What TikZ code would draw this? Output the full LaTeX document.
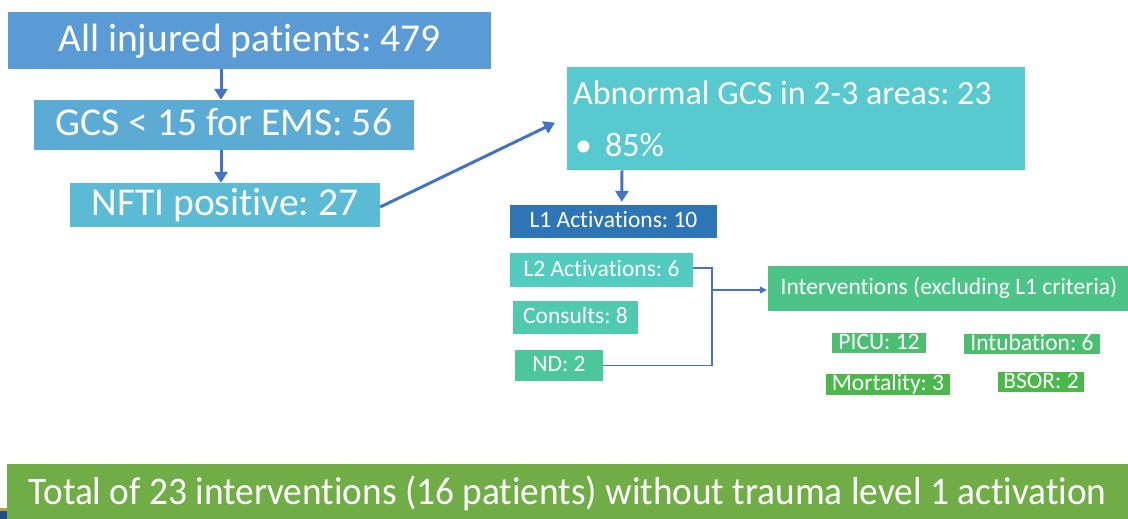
\documentclass[tikz,border=0pt]{standalone}
\usepackage{fontspec}
\setmainfont{Carlito}[Ligatures=NoCommon]
\usetikzlibrary{arrows.meta,calc}
\definecolor{cA}{HTML}{5B9BD5}
\definecolor{cB}{HTML}{5BABD5}
\definecolor{cC}{HTML}{5BBAD4}
\definecolor{cAb}{HTML}{57C9CF}
\definecolor{cL1}{HTML}{2E75B6}
\definecolor{cL2}{HTML}{52CCBF}
\definecolor{cCo}{HTML}{4FCAB0}
\definecolor{cND}{HTML}{4CC79C}
\definecolor{cIV}{HTML}{4DC487}
\definecolor{cPI}{HTML}{4CBE72}
\definecolor{cMo}{HTML}{4CB84C}
\definecolor{cBand}{HTML}{70AD47}
\definecolor{cArr}{HTML}{4472C4}
\definecolor{cGold}{HTML}{C49A3A}
\definecolor{cNavy}{HTML}{1F4E8C}
\frenchspacing
\begin{document}
\begin{tikzpicture}[x=1pt,y=-1pt,
  box/.style={rectangle,inner sep=0pt,text=white},
  bigbox/.style={box,font=\fontsize{39.5}{44}\selectfont,text height=25.4pt,text depth=4.2pt},
  smallbox/.style={box,font=\fontsize{23.5}{28}\selectfont,text height=15.1pt,text depth=2.8pt},
  thickarr/.style={draw=cArr,line width=3pt,-{Triangle[length=11pt,width=13pt]}},
  thinarr/.style={draw=cArr,line width=1.3pt,-{Triangle[length=7pt,width=7pt]}},
  thinline/.style={draw=cArr,line width=1.3pt}]
\useasboundingbox (0,0) rectangle (1128,519);
% top chain
\node[bigbox,fill=cA,minimum width=483pt,minimum height=57pt] (b1) at (249.5,40.5) {All injured patients: 479};
\node[bigbox,fill=cB,minimum width=380pt,minimum height=50pt] (b2) at (224,125) {GCS < 15 for EMS: 56};
\node[bigbox,fill=cC,minimum width=310pt,minimum height=44pt] (b3) at (225,205) {NFTI positive: 27};
% abnormal box
\node[rectangle,fill=cAb,text=white,anchor=north west,minimum width=458pt,minimum height=103pt,
  inner xsep=6pt,inner ysep=0pt,text width=446pt,align=left,font=\fontsize{34}{52}\selectfont] (ab) at (567,67)
  {\spaceskip=0pt\xspaceskip=0pt Abnormal GCS in 2-3 areas: 23\\\hspace*{2pt}\textbullet\hspace{13pt}85\%};
% small boxes
\node[smallbox,fill=cL1,minimum width=207pt,minimum height=33pt] (l1) at (613.5,221.5) {L1 Activations: 10};
\node[smallbox,fill=cL2,minimum width=183pt,minimum height=34pt] (l2) at (601.5,270) {L2 Activations: 6};
\node[smallbox,fill=cCo,minimum width=125pt,minimum height=33pt] (co) at (575.5,317.5) {Consults: 8};
\node[smallbox,fill=cND,minimum width=88pt,minimum height=31pt] (nd) at (559,365.5) {ND: 2};
\node[smallbox,fill=cIV,minimum width=362pt,minimum height=45pt] (iv) at (949,288.5) {Interventions (excluding L1 criteria)};
\node[smallbox,fill=cPI,minimum width=94pt,minimum height=20pt] (pi) at (879,343) {PICU: 12};
\node[smallbox,fill=cPI,minimum width=136pt,minimum height=20pt] (in) at (1032,344) {Intubation: 6};
\node[smallbox,fill=cMo,minimum width=124pt,minimum height=21pt] (mo) at (888,384.5) {Mortality: 3};
\node[smallbox,fill=cMo,minimum width=86pt,minimum height=20pt] (bs) at (1041,382) {BSOR: 2};
% bottom band
\node[rectangle,fill=cBand,inner sep=0pt,minimum width=1121pt,minimum height=56pt,text=white,
  font=\fontsize{39}{44}\selectfont,text height=25.1pt,text depth=0pt] (band) at (567.5,491.5)
  {\resizebox{1078pt}{\height}{Total of 23 interventions (16 patients) without trauma level 1 activation}};
\fill[cGold] (0,508) rectangle (6.5,511);
\fill[cNavy] (0,511) rectangle (6.5,519);
% connectors
\draw[thickarr] (b2.north |- b1.south) ++(-3,0) -- ([xshift=-3pt]b2.north);
\draw[thickarr] (b2.south) ++(-3,0) -- ([xshift=-4pt]b3.north);
\draw[thickarr] ([yshift=-2pt]b3.east) -- ($(ab.west)+(-12,4)$);
\draw[thickarr] ($(ab.south west)+(55,0)$) -- ($(l1.north west)+(112,-3)$);
\coordinate (jx) at (712,290);
\draw[thinline] ([yshift=2pt]l2.east) -| (jx) |- (nd.east);
\draw[thinarr] (jx) -- ([xshift=-1pt]iv.west |- jx);
\end{tikzpicture}
\end{document}
